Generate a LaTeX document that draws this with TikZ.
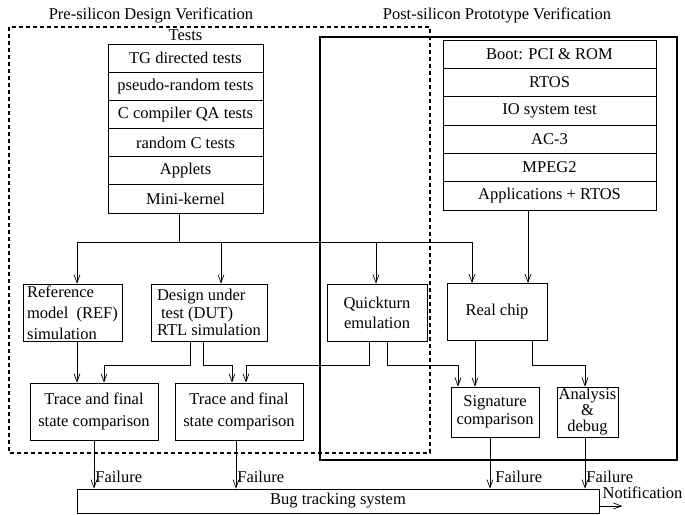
\documentclass[tikz,border=0pt]{standalone}
\usepackage{fontspec}
\setmainfont{Liberation Serif}
\usetikzlibrary{arrows.meta,positioning,calc}
\tikzset{
  stackrow/.style={draw, line width=0.8pt, minimum width=155pt, minimum height=28.2pt, inner sep=0pt},
  procbox/.style={draw, line width=0.8pt, align=center, minimum height=57pt, inner sep=2pt},
  lbl/.style={inner sep=1pt},
  flow/.style={-{Straight Barb[length=8pt,width=6pt]}, line width=0.7pt},
  link/.style={line width=0.7pt},
  preframe/.style={line width=1.8pt, dash pattern=on 4pt off 3pt},
  postframe/.style={line width=2.2pt}
}
\begin{document}
\begin{tikzpicture}[x=1pt, y=-1pt, font=\fontsize{16.5}{20}\selectfont]
\useasboundingbox (0,0) rectangle (685,514);
% frames and titles
\draw[preframe] (9,27) rectangle (430,453);
\draw[postframe] (320,37) rectangle (677,460);
\node[lbl] (pretitle) at (151,15) {Pre-silicon Design Verification};
\node[lbl] (posttitle) at (497,15) {Post-silicon Prototype Verification};
% test stacks
\node[lbl] (testslabel) at (185.5,35) {Tests};
\foreach \txt [count=\i] in {TG directed tests, pseudo-random tests, C compiler QA tests, random C tests, Applets, Mini-kernel} {
  \node[stackrow] (test\i) at (185.5,{44+28.17*(\i-0.5)}) {\txt};
}
\foreach \txt [count=\i] in {Boot: PCI \& ROM, RTOS, IO system test, AC-3, MPEG2, Applications + RTOS} {
  \node[stackrow, minimum width=213pt] (app\i) at (549.5,{40+28.33*(\i-0.5)}) {\txt};
}
% processing steps
\node[procbox, minimum width=99pt, align=left, font=\fontsize{16.5}{21}\selectfont] (ref) at (72.5,313) {Reference\\model~ (REF)\\simulation};
\node[procbox, minimum width=116pt, align=left, font=\fontsize{16.5}{17.5}\selectfont] (dut) at (209,312.5) {Design under\\\ test (DUT)\\RTL simulation};
\node[procbox, minimum width=100pt] (quick) at (377,312.5) {Quickturn\\emulation};
\node[procbox, minimum width=100pt] (chip) at (497,312) {Real chip};
\node[procbox, minimum width=128pt, font=\fontsize{16.5}{22}\selectfont] (trace1) at (94,411.5) {Trace and final\\state comparison};
\node[procbox, minimum width=128pt, font=\fontsize{16.5}{22}\selectfont] (trace2) at (239,411.5) {Trace and final\\state comparison};
\node[procbox, minimum width=88pt, minimum height=50pt, font=\fontsize{16.5}{18}\selectfont] (sig) at (495,412) {Signature\\comparison};
\node[procbox, minimum width=61pt, minimum height=50pt, inner sep=1pt, font=\fontsize{16.5}{16}\selectfont] (ana) at (587.5,412) {Analysis\\\&\\debug};
\node[procbox, minimum width=522pt, minimum height=24pt] (bug) at (338,501) {Bug tracking system};
% fan-out of the tests
\draw[link] ([xshift=-6.5pt]test6.south) -- ++(0,29) coordinate (split);
\draw[flow] (split) -| ([xshift=4.5pt]ref.north);
\draw[flow] (split) -| ([xshift=12pt]dut.north);
\draw[flow] (split) -| ([xshift=-1pt]quick.north);
\draw[flow] (split) -| ([xshift=-25pt]chip.north);
\draw[flow] ([xshift=31pt]chip.north |- app6.south) -- ([xshift=31pt]chip.north);
% results to comparison
\draw[flow] ([xshift=4.5pt]ref.south) -- ([xshift=4.5pt]ref.south |- trace1.north);
\draw[flow] ([xshift=-19pt]dut.south) -- ++(0,24) -| ([xshift=10pt]trace1.north);
\draw[flow] ([xshift=-6pt]dut.south) -- ++(0,24) -| ([xshift=-7pt]trace2.north);
\draw[flow] ([xshift=-8pt]quick.south) -- ++(0,24) -| ([xshift=7pt]trace2.north);
\draw[flow] ([xshift=10pt]quick.south) -- ++(0,24) -| ([xshift=-37pt]sig.north);
\draw[flow] ([xshift=-22pt]chip.south) -- ([xshift=-22pt]chip.south |- sig.north);
\draw[flow] ([xshift=35pt]chip.south) -- ++(0,24) -| ([xshift=-2.5pt]ana.north);
% failures
\draw[flow] (trace1.south) -- (trace1.south |- bug.north) node[lbl, right, pos=0.75] {Failure};
\draw[flow] ([xshift=-3pt]trace2.south) -- ([xshift=-3pt]trace2.south |- bug.north) node[lbl, right, pos=0.75] {Failure};
\draw[flow] ([xshift=-5pt]sig.south) -- ([xshift=-5pt]sig.south |- bug.north) node[lbl, right, pos=0.78, xshift=4pt] {Failure};
\draw[flow] ([xshift=-2.5pt]ana.south) -- ([xshift=-2.5pt]ana.south |- bug.north) node[lbl, right, pos=0.78] {Failure};
\draw[flow] ([yshift=-5pt]bug.east) -- ++(23,0);
\node[lbl, anchor=south west] (notif) at ([xshift=2pt,yshift=1pt]bug.east) {Notification};
\end{tikzpicture}
\end{document}
